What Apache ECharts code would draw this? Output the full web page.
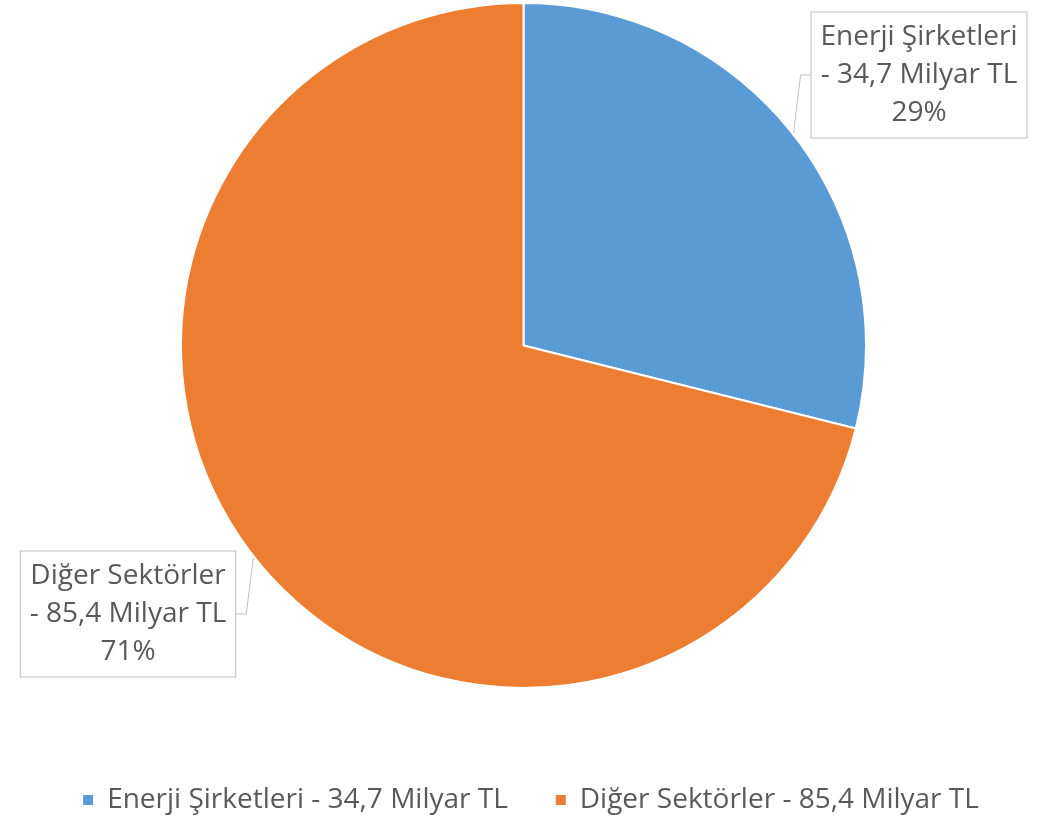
<!DOCTYPE html>
<html><head><meta charset="utf-8">
<script src="https://cdn.jsdelivr.net/npm/echarts@6/dist/echarts.min.js"></script>
<style>html,body{margin:0;padding:0;background:#fff}#c{width:1060px;height:819px}</style>
</head><body><div id="c"></div>
<script>
const categories = ['Enerji Şirketleri - 34,7 Milyar TL', 'Diğer Sektörler - 85,4 Milyar TL'];
const values = [34.7, 85.4];
const colors = ['#5b9bd5', '#ed7d31'];
const labelCenters = [[919, 75], [128, 614]];

const chart = echarts.init(document.getElementById('c'));
chart.setOption({
  animation: false,
  color: colors,
  textStyle: { fontFamily: 'Open Sans' },
  legend: {
    top: 781, left: 'center',
    icon: 'rect', itemWidth: 12, itemHeight: 12, itemGap: 46,
    textStyle: { fontSize: 28, color: '#595959', fontFamily: 'Open Sans', padding: [0, 0, 0, 8] },
    data: categories
  },
  series: [{
    type: 'pie',
    center: [523.5, 345.5],
    radius: ['0%', 342.5],
    startAngle: 90,
    clockwise: true,
    percentPrecision: 0,
    itemStyle: { borderColor: '#fff', borderWidth: 2 },
    label: {
      show: true, position: 'outside',
      formatter: p => p.name.replace(' - ', '\n- ') + '\n' + p.percent + '%',
      fontSize: 28, lineHeight: 38, color: '#595959', fontFamily: 'Open Sans',
      align: 'center',
      backgroundColor: '#fff', borderColor: '#bfbfbf', borderWidth: 1,
      padding: [6, 9, 5, 9]
    },
    labelLine: { show: true, length: 10, length2: 10, lineStyle: { color: '#bfbfbf', width: 1 } },
    labelLayout: p => ({
      x: labelCenters[p.dataIndex][0],
      y: labelCenters[p.dataIndex][1],
      align: 'center', verticalAlign: 'middle'
    }),
    data: categories.map((n, i) => ({ name: n, value: values[i] }))
  }]
});
</script></body></html>
